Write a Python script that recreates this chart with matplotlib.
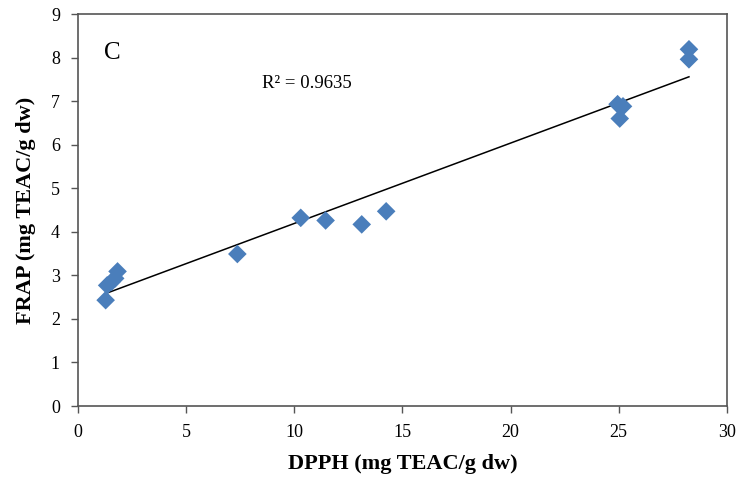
import matplotlib
matplotlib.use("Agg")
import matplotlib.pyplot as plt
import numpy as np

dpph = [1.28, 1.35, 1.55, 1.72, 1.83, 7.37, 10.3, 11.45, 13.12, 14.25, 24.95, 25.2, 25.05, 28.25, 28.25]
frap = [2.43, 2.77, 2.85, 2.93, 3.09, 3.49, 4.32, 4.26, 4.17, 4.47, 6.93, 6.88, 6.60, 8.19, 7.96]
xticks = [0, 5, 10, 15, 20, 25, 30]
yticks = list(range(0, 10))

plt.rcParams['font.family'] = ['Liberation Serif', 'DejaVu Serif']

fig = plt.figure(figsize=(7.39, 4.90), dpi=100)
ax = fig.add_axes([0.1055, 0.1714, 0.878, 0.8])

ax.scatter(dpph, frap, marker='D', s=90, color='#4A7EBB', edgecolors='none', zorder=3)

coef = np.polyfit(dpph, frap, 1)
xl = np.array([min(dpph), max(dpph)])
ax.plot(xl, np.polyval(coef, xl), color='black', lw=1.1, zorder=2)

ax.set_xlim(0, 30)
ax.set_ylim(0, 9)
ax.set_xticks(xticks)
ax.set_yticks(yticks)
ax.tick_params(direction='out', length=5, width=1, labelsize=13, color='#555555', pad=8)
for s in ax.spines.values():
    s.set_color('#555555')
    s.set_linewidth(1.2)

ax.set_xlabel('DPPH (mg TEAC/g dw)', fontsize=16, fontweight='bold', labelpad=9)
ax.set_ylabel('FRAP (mg TEAC/g dw)', fontsize=16, fontweight='bold', labelpad=11)

ax.text(1.2, 8.1, 'C', fontsize=18, va='center', ha='left')
ax.text(8.5, 7.4, 'R² = 0.9635', fontsize=13.5, va='center', ha='left')

fig.savefig('out.png', dpi=100)
